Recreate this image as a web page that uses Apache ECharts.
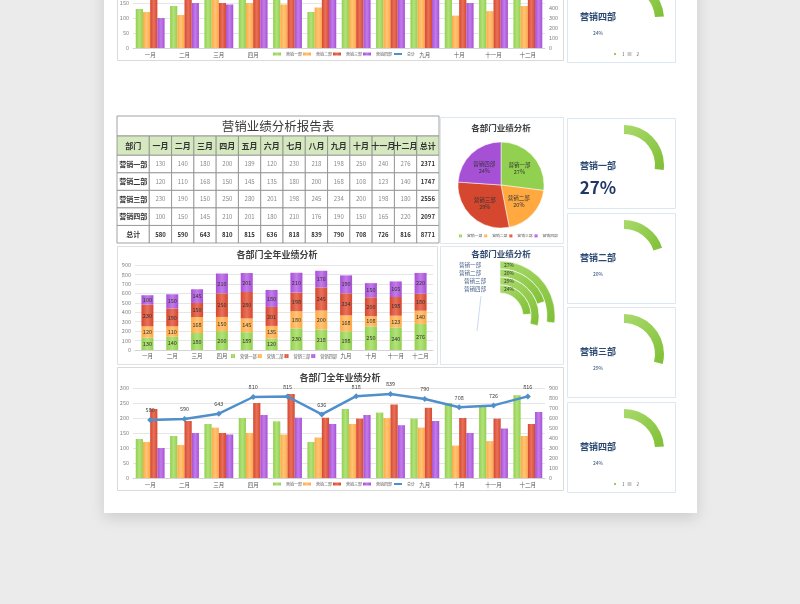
<!DOCTYPE html>
<html>
<head>
<meta charset="utf-8">
<script src="https://cdn.jsdelivr.net/npm/echarts@6/dist/echarts.min.js"></script>
<style>html,body{margin:0;padding:0;background:#ebebeb;}#c{width:800px;height:604px;}</style>
</head>
<body>
<div id="c"></div>
<script>
// ---------- data ----------
const months = ['一月','二月','三月','四月','五月','六月','七月','八月','九月','十月','十一月','十二月'];
const depts = ['营销一部','营销二部','营销三部','营销四部'];
const sales1 = [130,140,180,200,189,120,230,218,198,250,240,276];
const sales2 = [120,110,168,150,145,135,180,200,168,108,123,140];
const sales3 = [230,190,150,250,280,201,198,245,234,200,198,180];
const sales4 = [100,150,145,210,201,180,210,176,190,150,165,220];
const monthTotals = [580,590,643,810,815,636,818,839,790,708,726,816];
const deptTotals = [2371,1747,2556,2097];
const grandTotal = 8771;
const totalName = '总计';
const headerLabel = '部门';
const tableTitle = '营销业绩分析报告表';
const chartTitle = '各部门全年业绩分析';
const pieTitle = '各部门业绩分析';
const gaugeLegend = ['1','2'];
const barAxisMax = 300, barAxisStep = 50;
const totalAxisMax = 900, totalAxisStep = 100;

// ---------- derived ----------
const deptSeries = [sales1, sales2, sales3, sales4];
const shares = deptTotals.map(t => Math.round(t / grandTotal * 100));
const FONT = '"Noto Sans CJK SC", "Noto Sans", sans-serif';
const colors = ['#92d050','#ffa940','#d6472f','#a650d6'];
const lightColors = ['#b2e27a','#ffc47a','#e8715a','#c27ce8'];
const lineColor = '#4f8fcb';
const G = echarts.graphic;
function barGrad(i){
  return new G.LinearGradient(0,0,1,0,[{offset:0,color:colors[i]},{offset:0.5,color:lightColors[i]},{offset:1,color:colors[i]}]);
}
const ringGrad = new G.LinearGradient(0,0,1,1,[{offset:0,color:'#a9da6c'},{offset:1,color:'#7fbf35'}]);

// table cells
const rows = [[headerLabel, ...months, totalName]];
depts.forEach((d,i) => rows.push([d, ...deptSeries[i], deptTotals[i]]));
rows.push([totalName, ...monthTotals, grandTotal]);
const colW = c => c === 0 ? 1.45 : 1;
const colX = c => c === 0 ? 0 : 1.45 + (c - 1);
const rowH = r => r === 0 ? 1.1 : 1;
const rowY = r => r === 0 ? 0 : 1.1 + (r - 1);
const tableCells = [];
rows.forEach((row, r) => row.forEach((t, c) => tableCells.push({r, c, text: String(t)})));

// ---------- layout ----------
const SHIFT = 430; // previous page copy offset
const boxTops = [118, 213, 307, 402];

const axisLabelStyle = {fontSize: 5.5, color: '#7f7f7f', fontFamily: FONT};

function comboAxes(gi){
  return {
    x: {type:'category', gridIndex: gi, data: months, axisTick:{show:false},
        axisLine:{lineStyle:{color:'#d4d4d4'}}, axisLabel:{...axisLabelStyle, color:'#595959', margin:4, interval:0}},
    yl: {type:'value', gridIndex: gi, min:0, max: barAxisMax, interval: barAxisStep,
        axisLabel:{...axisLabelStyle, margin:4}, splitLine:{lineStyle:{color:'#e6e6e6'}}, axisLine:{show:false}, axisTick:{show:false}},
    yr: {type:'value', gridIndex: gi, position:'right', min:0, max: totalAxisMax, interval: totalAxisStep,
        axisLabel:{...axisLabelStyle, margin:4}, splitLine:{show:false}, axisLine:{show:false}, axisTick:{show:false}}
  };
}
function comboSeries(xi, yl, yr){
  const s = depts.map((d,i) => ({
    type:'bar', name:d, xAxisIndex:xi, yAxisIndex:yl, data: deptSeries[i],
    barGap:'0%', barCategoryGap:'16%', itemStyle:{color: barGrad(i)}, silent:true
  }));
  s.push({type:'line', name: totalName, xAxisIndex:xi, yAxisIndex:yr, data: monthTotals,
    symbol:'diamond', symbolSize:6, lineStyle:{width:2.5, color:lineColor}, itemStyle:{color:lineColor},
    label:{show:true, position:'top', distance:4, fontSize:5.5, color:'#404040', fontFamily:FONT}, z:5, silent:true});
  return s;
}
function ringSeries(i, cx, cy, r0, r1){
  return {type:'pie', center:[cx, cy], radius:[r0, r1], startAngle:90, clockwise:true, silent:true,
    label:{show:false}, labelLine:{show:false}, emphasis:{disabled:true},
    data:[{name: gaugeLegend[0], value: shares[i], itemStyle:{color: ringGrad}},
          {name: gaugeLegend[1], value: 100 - shares[i], itemStyle:{color:'rgba(0,0,0,0)'}}]};
}

const ca = comboAxes(2), cb = comboAxes(3);
const series = [];

// table
series.push({
  type:'custom', xAxisIndex:0, yAxisIndex:0, silent:true,
  data: tableCells.map(d => [colX(d.c) + colW(d.c)/2, rowY(d.r) + rowH(d.r)/2]),
  renderItem: function(params, api){
    const cell = tableCells[params.dataIndex];
    const p0 = api.coord([colX(cell.c), rowY(cell.r)]);
    const p1 = api.coord([colX(cell.c) + colW(cell.c), rowY(cell.r) + rowH(cell.r)]);
    let fill = '#fff', fs = 6, fw = 'normal', tc = '#8a8a8a';
    if (cell.r === 0) { fill = '#d5e8c0'; fs = 8; fw = 'bold'; tc = '#333'; }
    else if (cell.c === 0) { fs = 7; fw = 'bold'; tc = '#333'; }
    else if (cell.r === rows.length - 1 || cell.c === rows[0].length - 1) { fs = 6; fw = 'bold'; tc = '#333'; }
    return {type:'group', children:[
      {type:'rect', shape:{x:p0[0], y:Math.min(p0[1],p1[1]), width:p1[0]-p0[0], height:Math.abs(p1[1]-p0[1])},
       style:{fill:fill, stroke:'#8c8c8c', lineWidth:0.8}},
      {type:'text', x:(p0[0]+p1[0])/2, y:(p0[1]+p1[1])/2,
       style:{text:cell.text, align:'center', verticalAlign:'middle', fontSize:fs, fontWeight:fw, fontFamily:FONT, fill:tc}}
    ]};
  }
});

// stacked bars
depts.forEach((d,i) => series.push({
  type:'bar', name:d, xAxisIndex:1, yAxisIndex:1, stack:'total', data: deptSeries[i], barWidth:12, silent:true,
  itemStyle:{color: barGrad(i)},
  label:{show:true, position:'inside', fontSize:5.5, color:'#333', fontFamily:FONT}
}));

// combo + previous-page copy
series.push(...comboSeries(2, 2, 3));
series.push(...comboSeries(3, 4, 5));

// pie
series.push({
  type:'pie', name:'pie', center:[501,185], radius:43, startAngle:90, clockwise:true, silent:true,
  data: depts.map((d,i) => ({name:d, value: deptTotals[i], itemStyle:{color: colors[i], borderColor:'#fff', borderWidth:0.5}})),
  label:{show:true, position:'inner', fontSize:5.5, lineHeight:7, color:'#333', fontFamily:FONT,
    formatter: p => p.name + '\n' + Math.round(p.percent) + '%'},
  labelLine:{show:false}
});

// radial rings
const ringC = [500, 316];
const ringR = [[47,55],[39,47],[31,39],[23,31]];
depts.forEach((d,i) => {
  const s = ringSeries(i, ringC[0], ringC[1], ringR[i][0], ringR[i][1]);
  s.data[0].itemStyle = {color: ringGrad, borderColor:'#fff', borderWidth:0.6};
  series.push(s);
});

// gauges
boxTops.forEach((t,i) => series.push(ringSeries(i, 624, t + 47, 31, 40)));
series.push(ringSeries(3, 624, boxTops[3] + 47 - SHIFT, 31, 40));

// ---------- graphic ----------
const graphic = [];
graphic.push({type:'rect', z:-10, shape:{x:104, y:-20, width:593, height:533},
  style:{fill:'#fff', shadowBlur:14, shadowColor:'rgba(0,0,0,0.13)', shadowOffsetY:5}});
function box(x,y,w,h,stroke){ graphic.push({type:'rect', z:-5, shape:{x,y,width:w,height:h}, style:{fill:'none', stroke, lineWidth:1}}); }
function txt(x,y,text,size,weight,color,align){
  graphic.push({type:'text', z:10, x, y, style:{text, align: align||'center', verticalAlign:'middle',
    fontSize:size, fontWeight:weight||'normal', fontFamily:FONT, fill:color}});
}
// table title row
graphic.push({type:'rect', z:1, shape:{x:117, y:116, width:322, height:20}, style:{fill:'#fff', stroke:'#8c8c8c', lineWidth:0.8}});
txt(278, 126.5, tableTitle, 12.5, 'normal', '#3a3a3a');
// panels
box(440.5, 117.5, 123, 126, '#dfe7ef');
box(440.5, 246.5, 123, 118, '#dfe7ef');
box(117.5, 246.5, 320, 118, '#e0e0e0');
box(117.5, 367.5, 446, 123, '#dadada');
box(117.5, 367.5 - SHIFT, 446, 123, '#dadada');
boxTops.forEach(t => box(567.5, t + 0.5, 108, 90, '#dbe7f3'));
box(567.5, boxTops[3] + 0.5 - SHIFT, 108, 90, '#dbe7f3');
// titles
txt(501, 128, pieTitle, 8.5, 'bold', '#404040');
txt(501, 254, pieTitle, 8.5, 'bold', '#2f4a6d');
txt(277, 255, chartTitle, 9, 'bold', '#404040');
txt(340, 378, chartTitle, 9, 'bold', '#404040');
txt(340, 378 - SHIFT, chartTitle, 9, 'bold', '#404040');
// radial labels
depts.forEach((d,i) => {
  const rm = (ringR[i][0] + ringR[i][1]) / 2;
  txt(ringC[0] + 4, ringC[1] - rm, shares[i] + '%', 5, 'normal', '#333', 'left');
  txt(i < 2 ? 481 : 486, ringC[1] - ringR[0][1] + 4 + i * 8, d, 5.5, 'normal', '#3d5a80', 'right');
});
graphic.push({type:'line', z:6, shape:{x1:481, y1:296, x2:477, y2:331}, style:{stroke:'#b9d3ee', lineWidth:0.8}});
// gauge labels
function gaugeText(i, t){
  txt(598, t + (i === 0 ? 48 : 45), depts[i], 9, 'bold', '#2c4a73');
  if (i === 0) txt(598, t + 70, shares[i] + '%', 17, 'bold', '#1f3864');
  else txt(598, t + 61, shares[i] + '%', 5, 'normal', '#2c4a73');
}
boxTops.forEach((t,i) => gaugeText(i, t));
gaugeText(3, boxTops[3] - SHIFT);

// ---------- legends ----------
const legendText = {fontSize:4.2, color:'#595959', fontFamily:FONT};
const comboLegendData = [...depts.map(d => ({name:d, icon:'rect'})), {name: totalName}];
const comboLegend = {data: comboLegendData, left: 271, itemWidth:8, itemHeight:3, itemGap:1,
  textStyle:{...legendText, fontSize:4}, padding:[3,2,3,2], backgroundColor:'#fff', selectedMode:false};
const legends = [
  {data: depts, left: 459, top: 234, icon:'rect', itemWidth:3, itemHeight:3, itemGap:2, textStyle:{...legendText, fontSize:3.8}, padding:0, selectedMode:false},
  {data: depts, left: 229, top: 351, icon:'rect', itemWidth:4, itemHeight:4, itemGap:1, textStyle:legendText, padding:[3,2,3,2], backgroundColor:'#fff', selectedMode:false},
  {...comboLegend, top: 479},
  {...comboLegend, top: 479 - SHIFT},
  {data: gaugeLegend, left: 612, top: boxTops[3] + 79, icon:'rect', itemWidth:4, itemHeight:4, itemGap:3, textStyle:{...legendText, fontSize:4.5}, padding:0, selectedMode:false},
  {data: gaugeLegend, left: 612, top: boxTops[3] + 79 - SHIFT, icon:'rect', itemWidth:4, itemHeight:4, itemGap:3, textStyle:{...legendText, fontSize:4.5}, padding:0, selectedMode:false}
];

const option = {
  animation:false,
  backgroundColor:'#ebebeb',
  grid:[
    {left:117, top:136, width:322, height:107, outerBoundsMode:'none'},
    {left:135, top:265, width:298, height:85, outerBoundsMode:'none'},
    {left:133, top:388, width:412, height:90, outerBoundsMode:'none'},
    {left:133, top:388 - SHIFT, width:412, height:90, outerBoundsMode:'none'}
  ],
  xAxis:[
    {type:'value', gridIndex:0, min:0, max:14.45, show:false},
    {type:'category', gridIndex:1, data: months, axisTick:{show:false}, axisLine:{lineStyle:{color:'#d4d4d4'}},
      axisLabel:{...axisLabelStyle, color:'#595959', margin:3, interval:0}},
    ca.x, cb.x
  ],
  yAxis:[
    {type:'value', gridIndex:0, min:0, max:6.1, inverse:true, show:false},
    {type:'value', gridIndex:1, min:0, max: totalAxisMax, interval: totalAxisStep,
      axisLabel:{...axisLabelStyle, margin:4}, splitLine:{lineStyle:{color:'#e6e6e6'}}, axisLine:{show:false}, axisTick:{show:false}},
    ca.yl, ca.yr, cb.yl, cb.yr
  ],
  legend: legends,
  graphic: graphic,
  series: series
};
echarts.init(document.getElementById('c'), null, {renderer:'canvas'}).setOption(option);
</script>
</body>
</html>
